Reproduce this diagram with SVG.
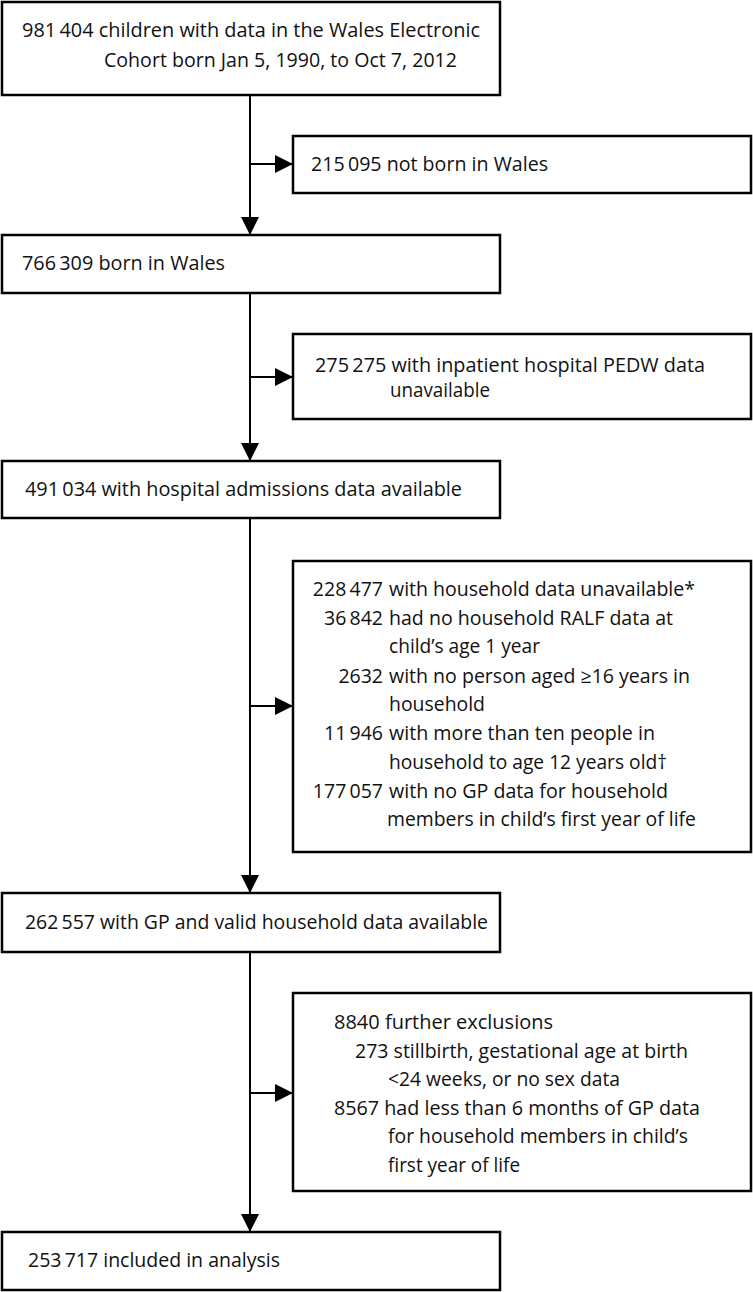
<svg xmlns="http://www.w3.org/2000/svg" width="753" height="1292" viewBox="0 0 753 1292">
<style>
  .box { fill: #ffffff; stroke: #000000; stroke-width: 2.5; }
  .ln { fill: none; stroke: #000000; stroke-width: 2; }
  text { font-family: "Open Sans", "Noto Sans", "Liberation Sans", sans-serif; font-size: 19.5px; fill: #111111; }
  .num { text-anchor: end; }
</style>
<defs>
  <marker id="arr" markerUnits="userSpaceOnUse" markerWidth="18" markerHeight="18" viewBox="0 0 17 17" refX="17" refY="8.5" orient="auto">
    <path d="M0,0 L17,8.5 L0,17 Z" fill="#000000"/>
  </marker>
</defs>
<rect width="753" height="1292" fill="#ffffff"/>

<g id="connectors">
  <line class="ln" x1="250" y1="95" x2="250" y2="235" marker-end="url(#arr)"/>
  <line class="ln" x1="250" y1="164" x2="293" y2="164" marker-end="url(#arr)"/>
  <line class="ln" x1="250" y1="293" x2="250" y2="461" marker-end="url(#arr)"/>
  <line class="ln" x1="250" y1="377" x2="293" y2="377" marker-end="url(#arr)"/>
  <line class="ln" x1="250" y1="518" x2="250" y2="893" marker-end="url(#arr)"/>
  <line class="ln" x1="250" y1="706" x2="293" y2="706" marker-end="url(#arr)"/>
  <line class="ln" x1="250" y1="952" x2="250" y2="1232" marker-end="url(#arr)"/>
  <line class="ln" x1="250" y1="1093" x2="293" y2="1093" marker-end="url(#arr)"/>
</g>

<g id="n1">
  <rect class="box" x="2" y="2" width="498" height="93"/>
  <text x="22" y="37" textLength="458" lengthAdjust="spacingAndGlyphs">981&#8201;404 children with data in the Wales Electronic</text>
  <text x="104" y="67" textLength="353" lengthAdjust="spacingAndGlyphs">Cohort born Jan 5, 1990, to Oct 7, 2012</text>
</g>

<g id="n2">
  <rect class="box" x="293" y="136" width="458" height="57"/>
  <text x="311" y="171" textLength="237" lengthAdjust="spacingAndGlyphs">215&#8201;095 not born in Wales</text>
</g>

<g id="n3">
  <rect class="box" x="2" y="235" width="498" height="58"/>
  <text x="22" y="270" textLength="203" lengthAdjust="spacingAndGlyphs">766&#8201;309 born in Wales</text>
</g>

<g id="n4">
  <rect class="box" x="293" y="334" width="458" height="85"/>
  <text x="315" y="372" textLength="390" lengthAdjust="spacingAndGlyphs">275&#8201;275 with inpatient hospital PEDW data</text>
  <text x="390" y="397" textLength="100" lengthAdjust="spacingAndGlyphs">unavailable</text>
</g>

<g id="n5">
  <rect class="box" x="2" y="461" width="498" height="57"/>
  <text x="25" y="496" textLength="437" lengthAdjust="spacingAndGlyphs">491&#8201;034 with hospital admissions data available</text>
</g>

<g id="n6">
  <rect class="box" x="293" y="561" width="458" height="291"/>
  <text class="num" x="383" y="596">228&#8201;477</text>
  <text x="389" y="596" textLength="306" lengthAdjust="spacingAndGlyphs">with household data unavailable*</text>
  <text class="num" x="383" y="625">36&#8201;842</text>
  <text x="389" y="625" textLength="284" lengthAdjust="spacingAndGlyphs">had no household RALF data at</text>
  <text x="389" y="653" textLength="151" lengthAdjust="spacingAndGlyphs">child’s age 1 year</text>
  <text class="num" x="383" y="683">2632</text>
  <text x="389" y="683" textLength="301" lengthAdjust="spacingAndGlyphs">with no person aged ≥16 years in</text>
  <text x="389" y="711" textLength="96" lengthAdjust="spacingAndGlyphs">household</text>
  <text class="num" x="383" y="740">11&#8201;946</text>
  <text x="389" y="740" textLength="266" lengthAdjust="spacingAndGlyphs">with more than ten people in</text>
  <text x="389" y="769" textLength="278" lengthAdjust="spacingAndGlyphs">household to age 12 years old†</text>
  <text class="num" x="383" y="798">177&#8201;057</text>
  <text x="389" y="798" textLength="279" lengthAdjust="spacingAndGlyphs">with no GP data for household</text>
  <text x="387" y="826" textLength="309" lengthAdjust="spacingAndGlyphs">members in child’s first year of life</text>
</g>

<g id="n7">
  <rect class="box" x="2" y="893" width="498" height="59"/>
  <text x="25" y="929" textLength="463" lengthAdjust="spacingAndGlyphs">262&#8201;557 with GP and valid household data available</text>
</g>

<g id="n8">
  <rect class="box" x="293" y="993" width="458" height="198"/>
  <text x="334" y="1029" textLength="219" lengthAdjust="spacingAndGlyphs">8840 further exclusions</text>
  <text x="355" y="1058" textLength="333" lengthAdjust="spacingAndGlyphs">273 stillbirth, gestational age at birth</text>
  <text x="388" y="1086" textLength="232" lengthAdjust="spacingAndGlyphs">&lt;24 weeks, or no sex data</text>
  <text x="334" y="1115" textLength="366" lengthAdjust="spacingAndGlyphs">8567 had less than 6 months of GP data</text>
  <text x="388" y="1143" textLength="300" lengthAdjust="spacingAndGlyphs">for household members in child’s</text>
  <text x="388" y="1172" textLength="132" lengthAdjust="spacingAndGlyphs">first year of life</text>
</g>

<g id="n9">
  <rect class="box" x="2" y="1232" width="498" height="58"/>
  <text x="28" y="1267" textLength="252" lengthAdjust="spacingAndGlyphs">253&#8201;717 included in analysis</text>
</g>
</svg>
